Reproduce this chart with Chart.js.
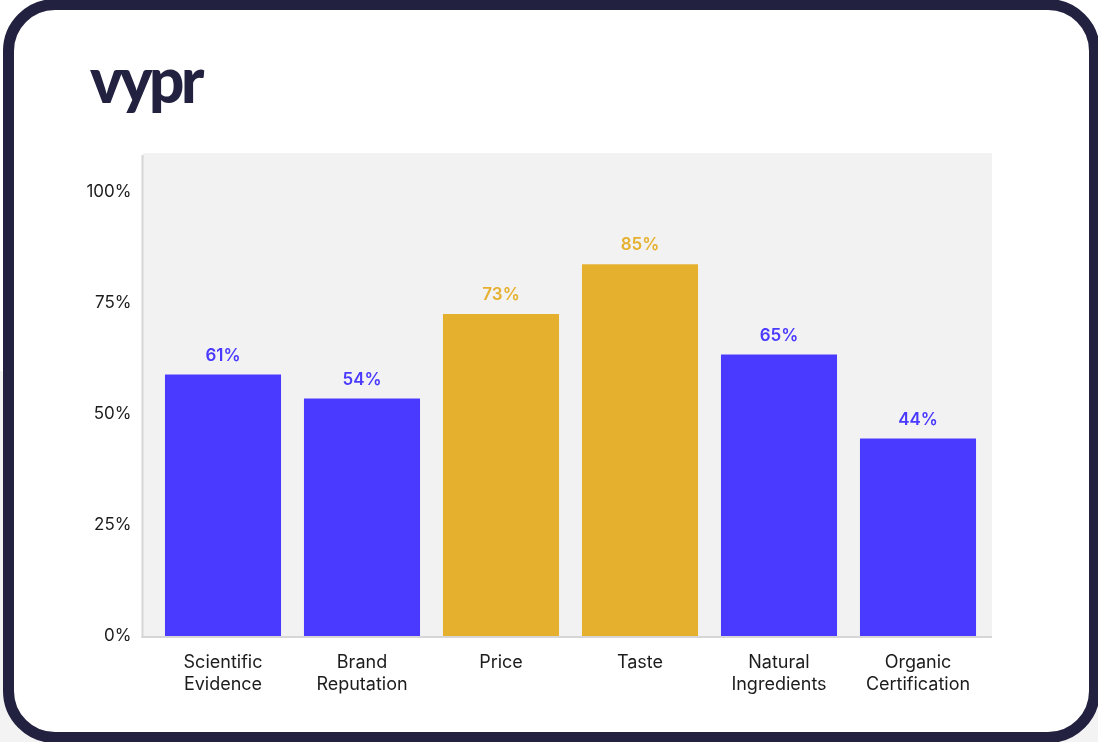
<!DOCTYPE html>
<html>
<head>
<meta charset="utf-8">
<script src="https://cdn.jsdelivr.net/npm/chart.js@4.4.1/dist/chart.umd.min.js"></script>
<style>
  html, body { margin: 0; padding: 0; }
  body { width: 1098px; height: 742px; background: linear-gradient(#ffffff 50%, #f3f3f3 50%); position: relative; overflow: hidden; }
  .frame {
    position: absolute; left: 3px; top: -1px; width: 1097px; height: 744px;
    box-sizing: border-box; border: 11px solid #22213f; border-radius: 52px; background: #fff;
  }
  .logo {
    position: absolute; left: 90px; top: 42px; font-family: Lato, sans-serif; font-weight: 900;
    font-size: 62px; letter-spacing: -3.5px; color: #22213f;
  }
  #chart { position: absolute; left: 0; top: 0; }
</style>
</head>
<body>
<div class="frame"></div>
<div class="logo">vypr</div>
<canvas id="chart" width="1098" height="742"></canvas>
<script>
const categories = [
  ['Scientific', 'Evidence'],
  ['Brand', 'Reputation'],
  'Price',
  'Taste',
  ['Natural', 'Ingredients'],
  ['Organic', 'Certification']
];
// bar heights as drawn in the picture, and the printed labels above them
const values = [58.9, 53.5, 72.5, 83.7, 63.4, 44.5];
const valueLabels = ['61%', '54%', '73%', '85%', '65%', '44%'];
const highlighted = [false, false, true, true, false, false];
const yTicks = [0, 25, 50, 75, 100];

const BLUE = '#4a3aff';
const GOLD = '#e6b02f';
const TEXT = '#1c1c1c';
const barColors = highlighted.map(h => h ? GOLD : BLUE);

// grey panel behind the plot plus the two light axis lines
const panelPlugin = {
  id: 'panel',
  beforeDraw(chart) {
    const { ctx, chartArea } = chart;
    const left = chartArea.left - 10.5, right = chartArea.right + 4.5;
    const top = 153, bottom = chartArea.bottom;
    ctx.save();
    ctx.fillStyle = '#f2f2f2';
    ctx.fillRect(left, top, right - left, bottom - top);
    ctx.fillStyle = '#d6d6d6';
    ctx.fillRect(left - 1.5, top + 2, 2, bottom - top);
    ctx.fillRect(left - 1.5, bottom, right - left + 1.5, 2);
    ctx.restore();
  }
};

const valueLabelPlugin = {
  id: 'valueLabels',
  afterDatasetsDraw(chart) {
    const { ctx } = chart;
    const meta = chart.getDatasetMeta(0);
    ctx.save();
    ctx.font = '600 17px Inter, sans-serif';
    ctx.textAlign = 'center';
    ctx.textBaseline = 'middle';
    meta.data.forEach((bar, i) => {
      ctx.fillStyle = barColors[i];
      ctx.fillText(valueLabels[i], bar.x, bar.y - 19);
    });
    ctx.restore();
  }
};

new Chart(document.getElementById('chart'), {
  type: 'bar',
  data: {
    labels: categories,
    datasets: [{
      data: values,
      backgroundColor: barColors,
      borderWidth: 0,
      categoryPercentage: 1,
      barPercentage: 0.835
    }]
  },
  options: {
    responsive: false,
    animation: false,
    layout: { padding: { left: 0, top: 192, right: 110.5, bottom: 0 } },
    plugins: {
      legend: { display: false },
      tooltip: { enabled: false }
    },
    scales: {
      x: {
        grid: { display: false, drawTicks: false },
        border: { display: false },
        ticks: {
          color: TEXT,
          font: { family: 'Inter, sans-serif', size: 18, lineHeight: 1.22 },
          padding: 16,
          maxRotation: 0,
          autoSkip: false
        },
        afterFit(scale) { scale.height = 106; }
      },
      y: {
        min: 0,
        max: 100,
        grid: { display: false, drawTicks: false },
        border: { display: false },
        afterBuildTicks(scale) { scale.ticks = yTicks.map(v => ({ value: v })); },
        ticks: {
          color: TEXT,
          font: { family: 'Inter, sans-serif', size: 17 },
          padding: 22,
          callback: v => v + '%'
        },
        afterFit(scale) { scale.width = 153.5; }
      }
    }
  },
  plugins: [panelPlugin, valueLabelPlugin]
});
</script>
</body>
</html>
